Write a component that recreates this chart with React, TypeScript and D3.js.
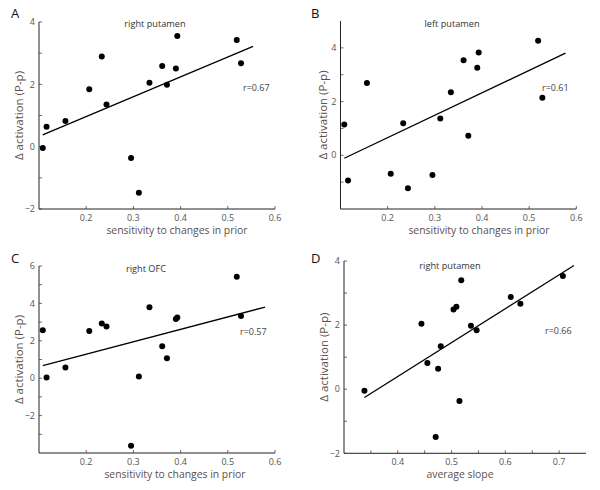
import React from "react";
import * as d3 from "d3";

// ---- data ----
const sensitivity = [0.108, 0.116, 0.156, 0.2065, 0.233, 0.243, 0.295, 0.3116, 0.334, 0.361, 0.371, 0.39, 0.393, 0.519, 0.528];
const rightPutamenA = [-0.04, 0.64, 0.82, 1.84, 2.89, 1.35, -0.36, -1.48, 2.05, 2.59, 1.99, 2.51, 3.55, 3.42, 2.68];
const leftPutamenB = [1.15, -0.94, 2.69, -0.69, 1.19, -1.23, -0.73, 1.37, 2.35, 3.54, 0.73, 3.26, 3.83, 4.26, 2.14];
const rightOFC_C = [2.56, 0.04, 0.57, 2.52, 2.93, 2.77, -3.61, 0.09, 3.8, 1.71, 1.07, 3.16, 3.25, 5.42, 3.32];
const averageSlope = [0.338, 0.444, 0.455, 0.475, 0.48, 0.4705, 0.5036, 0.509, 0.5147, 0.518, 0.536, 0.5466, 0.61, 0.628, 0.707];
const rightPutamenD = [-0.05, 2.04, 0.82, 0.64, 1.34, -1.49, 2.49, 2.57, -0.37, 3.4, 1.98, 1.84, 2.88, 2.67, 3.53];

const panelLetters = ["A", "B", "C", "D"];
const titles = ["right putamen", "left putamen", "right OFC", "right putamen"];
const rLabels = ["r=0.67", "r=0.61", "r=0.57", "r=0.66"];
const xLabels = ["sensitivity to changes in prior", "sensitivity to changes in prior", "sensitivity to changes in prior", "average slope"];
const yLabel = "\u0394 activation (P-p)";

const xTicksSens = [0.2, 0.3, 0.4, 0.5, 0.6];
const xTicksSlope = [0.4, 0.5, 0.6, 0.7];
const xMinorSlope = [0.35, 0.45, 0.55, 0.65];
const yTicksA = [-2, 0, 2, 4];
const yMinorA = [-1, 1, 3];
const yTicksB = [0, 2, 4];
const yMinorB = [-1, 1, 3];
const yTicksC = [-2, 0, 2, 4, 6];
const yMinorC = [-3, -1, 1, 3, 5];
const lineRangeA = [0.1078, 0.5535];
const lineRangeB = [0.108, 0.577];
const lineRangeC = [0.108, 0.579];
const lineRangeD = [0.338, 0.7276];

// ---- layout (pixels) ----
const FONT = "'Open Sans', 'DejaVu Sans', sans-serif";
const TICK_COLOR = "#555";
const LABEL_COLOR = "#5e504c";

type PanelCfg = {
  box: { left: number; right: number; top: number; bottom: number };
  xDomain: [number, number];
  yDomain: [number, number];
  xs: number[];
  ys: number[];
  xTicks: number[];
  xMinor: number[];
  yTicks: number[];
  yMinor: number[];
  lineRange: number[];
  letterPos: [number, number];
  titlePos: [number, number];
  rPos: [number, number];
  xLabelPos: [number, number];
  yLabelX: number;
  idx: number;
};

const panels: PanelCfg[] = [
  {
    box: { left: 39, right: 275, top: 22, bottom: 209 },
    xDomain: [0.1, 0.6], yDomain: [-2, 4],
    xs: sensitivity, ys: rightPutamenA,
    xTicks: xTicksSens, xMinor: [], yTicks: yTicksA, yMinor: yMinorA,
    lineRange: lineRangeA,
    letterPos: [11, 18], titlePos: [155, 27], rPos: [243, 91], xLabelPos: [177, 234], yLabelX: 23, idx: 0,
  },
  {
    box: { left: 340.5, right: 576.3, top: 21, bottom: 209 },
    xDomain: [0.1, 0.6], yDomain: [-2, 5],
    xs: sensitivity, ys: leftPutamenB,
    xTicks: xTicksSens, xMinor: [], yTicks: yTicksB, yMinor: yMinorB,
    lineRange: lineRangeB,
    letterPos: [311, 18], titlePos: [452, 27], rPos: [542, 91], xLabelPos: [479, 234], yLabelX: 327, idx: 1,
  },
  {
    box: { left: 39, right: 275, top: 266, bottom: 453 },
    xDomain: [0.1, 0.6], yDomain: [-4, 6],
    xs: sensitivity, ys: rightOFC_C,
    xTicks: xTicksSens, xMinor: [], yTicks: yTicksC, yMinor: yMinorC,
    lineRange: lineRangeC,
    letterPos: [11, 263], titlePos: [146, 272], rPos: [240, 335], xLabelPos: [175, 478], yLabelX: 23, idx: 2,
  },
  {
    box: { left: 344, right: 586, top: 261, bottom: 453.3 },
    xDomain: [0.3, 0.75], yDomain: [-2, 4],
    xs: averageSlope, ys: rightPutamenD,
    xTicks: xTicksSlope, xMinor: xMinorSlope, yTicks: yTicksA, yMinor: yMinorA,
    lineRange: lineRangeD,
    letterPos: [311, 263], titlePos: [450, 269], rPos: [545, 334], xLabelPos: [460, 478], yLabelX: 328, idx: 3,
  },
];

function fit(xs: number[], ys: number[]) {
  const mx = d3.mean(xs) as number;
  const my = d3.mean(ys) as number;
  let sxy = 0, sxx = 0;
  xs.forEach((x, i) => {
    sxy += (x - mx) * (ys[i] - my);
    sxx += (x - mx) * (x - mx);
  });
  const b = sxy / sxx;
  return { b, a: my - b * mx };
}

function Panel({ cfg }: { cfg: PanelCfg }) {
  const { box } = cfg;
  const x = d3.scaleLinear().domain(cfg.xDomain).range([box.left, box.right]);
  const y = d3.scaleLinear().domain(cfg.yDomain).range([box.bottom, box.top]);
  const { a, b } = fit(cfg.xs, cfg.ys);
  const lineGen = d3.line<number>().x((d) => x(d)).y((d) => y(a + b * d));
  const tl = 3;
  const fmt = (v: number) => (v < 0 ? "\u2212" + Math.abs(v) : String(v));
  return (
    <g>
      {/* axes */}
      <line x1={box.left} x2={box.left} y1={box.top} y2={box.bottom} stroke="#222" strokeWidth={1} />
      <line x1={box.left} x2={box.right} y1={box.bottom} y2={box.bottom} stroke="#222" strokeWidth={1} />
      {cfg.yTicks.concat(cfg.yMinor).map((t) => (
        <line key={"yt" + t} x1={box.left} x2={box.left + tl} y1={y(t)} y2={y(t)} stroke="#444" strokeWidth={0.8} />
      ))}
      {cfg.xTicks.concat(cfg.xMinor).map((t) => (
        <line key={"xt" + t} x1={x(t)} x2={x(t)} y1={box.bottom} y2={box.bottom - tl} stroke="#444" strokeWidth={0.8} />
      ))}
      {cfg.yTicks.map((t) => (
        <text key={"yl" + t} x={box.left - 4} y={y(t) + 3.2} textAnchor="end" fontSize={9} fill={TICK_COLOR} fontFamily={FONT}>
          {fmt(t)}
        </text>
      ))}
      {cfg.xTicks.map((t) => (
        <text key={"xl" + t} x={x(t)} y={box.bottom + 12} textAnchor="middle" fontSize={9} fill={TICK_COLOR} fontFamily={FONT}>
          {t.toFixed(1)}
        </text>
      ))}
      {/* regression line */}
      <path d={lineGen(cfg.lineRange) || ""} stroke="#000" strokeWidth={1.3} fill="none" />
      {/* points */}
      {cfg.xs.map((xv, i) => (
        <circle key={i} cx={x(xv)} cy={y(cfg.ys[i])} r={3} fill="#000" />
      ))}
      {/* texts */}
      <text x={cfg.letterPos[0]} y={cfg.letterPos[1]} fontSize={13} fill="#111" fontFamily={FONT}>
        {panelLetters[cfg.idx]}
      </text>
      <text x={cfg.titlePos[0]} y={cfg.titlePos[1]} fontSize={9.2} fill="#333" textAnchor="middle" fontFamily={FONT}>
        {titles[cfg.idx]}
      </text>
      <text x={cfg.rPos[0]} y={cfg.rPos[1]} fontSize={9} fill="#444" fontFamily={FONT}>
        {rLabels[cfg.idx]}
      </text>
      <text x={cfg.xLabelPos[0]} y={cfg.xLabelPos[1]} fontSize={10.4} fill={LABEL_COLOR} textAnchor="middle" fontFamily={FONT}>
        {xLabels[cfg.idx]}
      </text>
      <text
        transform={`translate(${cfg.yLabelX},${(box.top + box.bottom) / 2}) rotate(-90)`}
        fontSize={11.5}
        fill={LABEL_COLOR}
        textAnchor="middle"
        fontFamily={FONT}
      >
        {yLabel}
      </text>
    </g>
  );
}

export default function App() {
  return (
    <svg width={600} height={490} style={{ position: "absolute", left: 0, top: 0, background: "#fff" }}>
      <rect width={600} height={490} fill="#fff" />
      {panels.map((p, i) => (
        <Panel key={i} cfg={p} />
      ))}
    </svg>
  );
}
